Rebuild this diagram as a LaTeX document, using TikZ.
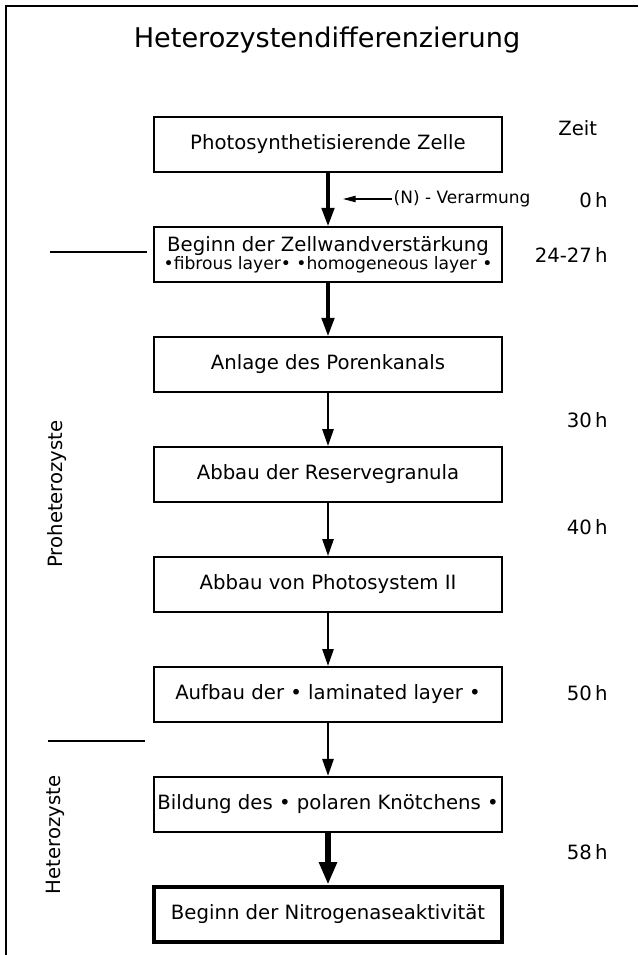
\documentclass[tikz,border=0pt]{standalone}
\usepackage{fontspec}
\setmainfont{DejaVu Sans}
\usetikzlibrary{arrows.meta,positioning}
\tikzstyle{stufe}=[draw, line width=1.2pt, align=center, text centered,
  minimum width=8.7cm, minimum height=1.375cm, inner sep=2pt,
  font=\fontsize{14}{16}\selectfont]
\tikzstyle{endstufe} = [stufe, line width=2.8pt]
\tikzstyle{pfeil} = [draw, line width=1.4pt, -{Triangle[length=12pt,width=8pt]}]
\tikzstyle{dickpfeil} = [draw, line width=2.2pt, -{Triangle[length=13pt,width=9pt]}]
\tikzstyle{endpfeil} = [draw, line width=4pt, -{Triangle[length=16pt,width=12pt]}]
\tikzstyle{zeit}=[anchor=east, inner sep=0pt, font=\fontsize{14}{16}\selectfont]
\tikzstyle{phase}=[rotate=90, inner sep=0pt, font=\fontsize{14}{16}\selectfont]
\tikzstyle{trenner}=[draw, line width=1.2pt]
\newcommand{\stufe}[2]{node (s#1) [stufe]
  {#2}}

\begin{document}
\begin{tikzpicture}

  \useasboundingbox (0,0) rectangle (15.95,-23.875);
  % Frame and title
  \draw[line width=1.2pt] (0.15,-23.875) -- (0.15,-0.15) -- (15.95,-0.15);
  \node[anchor=base, font=\fontsize{19.3}{22}\selectfont] (titel) at (8.175,-1.2)
    {Heterozystendifferenzierung};

  % Draw diagram elements
  \path (8.2,-3.6125) \stufe{1}{Photosynthetisierende Zelle};
  \path (s1.south)+(0.0,-2.04) \stufe{2}{Beginn der Zellwandverstärkung\\[-3pt]
    {\fontsize{12.2}{13}\selectfont •fibrous layer• •homogeneous layer •}};
  \path (s2.south)+(0.0,-2.04) \stufe{3}{Anlage des Porenkanals};
  \path (s3.south)+(0.0,-2.04) \stufe{4}{Abbau der Reservegranula};
  \path (s4.south)+(0.0,-2.04) \stufe{5}{Abbau von Photosystem II};
  \path (s5.south)+(0.0,-2.04) \stufe{6}{Aufbau der • laminated layer •};
  \path (s6.south)+(0.0,-2.04) \stufe{7}{Bildung des • polaren Knötchens •};
  \path (s7.south)+(0.0,-2.04) node (s8) [endstufe] {Beginn der Nitrogenaseaktivität};

  % Draw arrows between elements
  \path [dickpfeil] (s1.south) -- (s2);
  \path [dickpfeil] (s2.south) -- (s3);
  \path [pfeil] (s3.south) -- (s4);
  \path [pfeil] (s4.south) -- (s5);
  \path [pfeil] (s5.south) -- (s6);
  \path [pfeil] (s6.south) -- (s7);
  \path [endpfeil] (s7.south) -- (s8);

  % Nitrogen depletion
  \node[anchor=west, inner sep=1pt, font=\fontsize{12.1}{13}\selectfont] (nv)
    at (9.8,-4.975) {(N) - Verarmung};
  \coordinate (nz) at (8.575,-4.975);
  \path [draw, line width=0.8pt, -{Triangle[length=9pt,width=4.5pt]}] (nv.west) -- (nz);

  % Time axis
  \node[anchor=west, inner sep=0pt, font=\fontsize{14}{16}\selectfont] (zeit)
    at (13.95,-3.2) {Zeit};
  \node[zeit] (t0) at (15.2,-5.0) {0\,h};
  \node[zeit] (t24) at (15.2,-6.375) {24-27\,h};
  \node[zeit] (t30) at (15.2,-10.5) {30\,h};
  \node[zeit] (t40) at (15.2,-13.175) {40\,h};
  \node[zeit] (t50) at (15.2,-17.325) {50\,h};
  \node[zeit] (t58) at (15.2,-21.3) {58\,h};

  % Phases
  \coordinate (g1a) at (1.25,-6.3);
  \coordinate (g1b) at (3.675,-6.3);
  \coordinate (g2a) at (1.2,-18.525);
  \coordinate (g2b) at (3.625,-18.525);
  \path [trenner] (g1a) -- (g1b);
  \path [trenner] (g2a) -- (g2b);
  \node[phase] (pro) at (1.425,-12.35) {Proheterozyste};
  \node[phase] (het) at (1.375,-20.875) {Heterozyste};
\end{tikzpicture}
\end{document}
